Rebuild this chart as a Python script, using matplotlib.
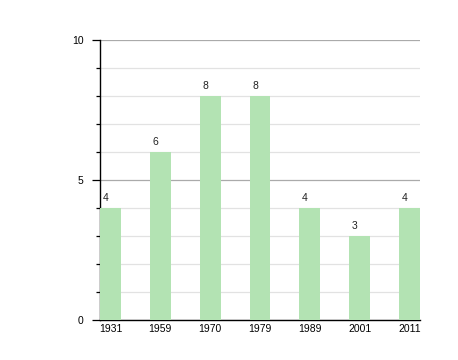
import matplotlib
matplotlib.use("Agg")
import matplotlib.pyplot as plt
import numpy as np
from matplotlib.ticker import MultipleLocator

years = ["1931", "1959", "1970", "1979", "1989", "2001", "2011"]
counts = [4, 6, 8, 8, 4, 3, 4]

plt.rcParams["font.family"] = ["Liberation Sans", "DejaVu Sans"]

fig = plt.figure(figsize=(4.58, 3.6), dpi=100)
ax = fig.add_axes([100 / 458, 40 / 360, 320 / 458, 280 / 360])

x = np.arange(len(years))
w = 0.42
ax.bar(x, counts, w, color="#b3e3b3", zorder=3)
for xi, c in zip(x, counts):
    ax.text(xi - 0.1, c + 0.18, str(c), ha="center", va="bottom", fontsize=7.5, color="#222222")

ax.set_xlim(-w / 2, len(years) - 1 + w / 2)
ax.set_ylim(0, 10)
ax.set_xticks(x)
ax.set_xticklabels(years)
ax.yaxis.set_major_locator(MultipleLocator(5))
ax.yaxis.set_minor_locator(MultipleLocator(1))
ax.grid(axis="y", which="major", color="#aaaaaa", lw=0.9, zorder=1)
ax.grid(axis="y", which="minor", color="#e2e2e2", lw=0.9, zorder=1)
ax.tick_params(axis="x", length=0, pad=3, labelsize=7.5)
ax.tick_params(axis="y", which="major", length=6, width=0.9, pad=6, labelsize=7.5)
ax.tick_params(axis="y", which="minor", length=3, width=0.9)
for s in ["top", "right"]:
    ax.spines[s].set_visible(False)
ax.spines["left"].set_linewidth(1.0)
ax.spines["bottom"].set_linewidth(1.0)

fig.savefig("out.png", dpi=100)
